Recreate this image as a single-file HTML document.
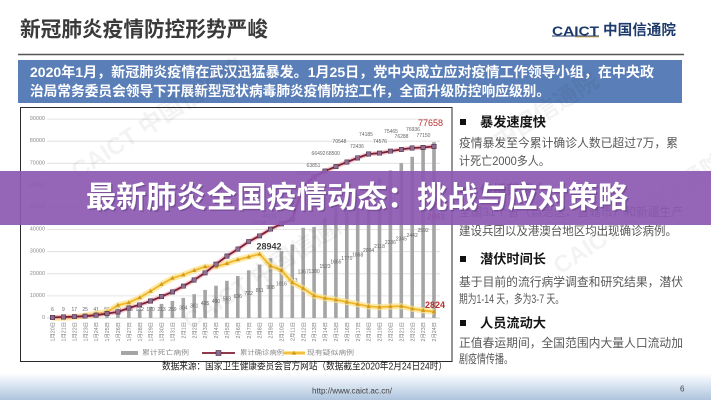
<!DOCTYPE html>
<html><head><meta charset="utf-8">
<style>
html,body{margin:0;padding:0;background:#fff;width:711px;height:400px;overflow:hidden}
svg{display:block}
text{font-family:"Liberation Sans","Noto Sans CJK SC",sans-serif}
</style></head>
<body>
<svg width="711" height="400" viewBox="0 0 711 400" xmlns="http://www.w3.org/2000/svg">
<defs>
<linearGradient id="foot" x1="0" y1="0" x2="0" y2="1">
<stop offset="0" stop-color="#ffffff"/>
<stop offset="0.3" stop-color="#e6eef7"/>
<stop offset="1" stop-color="#aec3dd"/>
</linearGradient>
<marker id="sq" viewBox="0 0 5 5" refX="2.5" refY="2.5" markerWidth="5" markerHeight="5" markerUnits="userSpaceOnUse">
<rect x="0.3" y="0.3" width="4.4" height="4.4" fill="#8d6e90" stroke="#4b2840" stroke-width="0.6"/>
</marker>
<marker id="tri" viewBox="0 0 5 5" refX="2.5" refY="2.8" markerWidth="5" markerHeight="5" markerUnits="userSpaceOnUse">
<path d="M2.5,0.4 L4.7,4.4 L0.3,4.4Z" fill="#d39a18"/>
</marker>
</defs>

<rect width="711" height="400" fill="#fff"/>

<!-- Title -->
<text x="20" y="30" font-size="21" font-weight="bold" fill="#3a3a3a" dominant-baseline="central" textLength="248" lengthAdjust="spacingAndGlyphs">新冠肺炎疫情防控形势严峻</text>
<!-- logo -->
<text x="552" y="31" font-size="13" font-weight="bold" fill="#1d3a6c" dominant-baseline="central" textLength="47" lengthAdjust="spacingAndGlyphs">CAICT</text>
<line x1="552" y1="36" x2="599" y2="36" stroke="#1d3a6c" stroke-width="1"/>
<line x1="575" y1="37" x2="599" y2="37" stroke="#e0a830" stroke-width="0.8"/>
<text x="603" y="31" font-size="14.5" font-weight="bold" fill="#1d3a6c" dominant-baseline="central" textLength="73" lengthAdjust="spacingAndGlyphs">中国信通院</text>

<line x1="18" y1="54.5" x2="684" y2="54.5" stroke="#555" stroke-width="1.5"/>

<!-- blue box -->
<rect x="18" y="60" width="664" height="43" fill="#5a7eb7"/>
<text x="30" y="72" font-size="14" font-weight="bold" fill="#fff" dominant-baseline="central" textLength="624" lengthAdjust="spacingAndGlyphs">2020年1月，新冠肺炎疫情在武汉迅猛暴发。1月25日，党中央成立应对疫情工作领导小组，在中央政</text>
<text x="30" y="91" font-size="14" font-weight="bold" fill="#fff" dominant-baseline="central" textLength="520" lengthAdjust="spacingAndGlyphs">治局常务委员会领导下开展新型冠状病毒肺炎疫情防控工作，全面升级防控响应级别。</text>

<!-- chart frame -->
<rect x="20.5" y="107.5" width="431.5" height="254" fill="#fff" stroke="#2a2a2a" stroke-width="1"/>

<!-- gridlines -->
<g stroke="#dcdcdc" stroke-width="0.8">
<line x1="47" y1="119.1" x2="440" y2="119.1"/>
<line x1="47" y1="141.2" x2="440" y2="141.2"/>
<line x1="47" y1="163.3" x2="440" y2="163.3"/>
<line x1="47" y1="185.4" x2="440" y2="185.4"/>
<line x1="47" y1="207.5" x2="440" y2="207.5"/>
<line x1="47" y1="229.6" x2="440" y2="229.6"/>
<line x1="47" y1="251.7" x2="440" y2="251.7"/>
<line x1="47" y1="273.8" x2="440" y2="273.8"/>
<line x1="47" y1="295.9" x2="440" y2="295.9"/>
</g>
<line x1="47" y1="318" x2="440" y2="318" stroke="#c8c8c8" stroke-width="0.8"/>

<!-- y labels -->
<g font-size="5.5" fill="#8a8a8a" text-anchor="end" dominant-baseline="central">
<text x="45" y="119.1">90000</text>
<text x="45" y="141.2">80000</text>
<text x="45" y="163.3">70000</text>
<text x="45" y="185.4">60000</text>
<text x="45" y="207.5">50000</text>
<text x="45" y="229.6">40000</text>
<text x="45" y="251.7">30000</text>
<text x="45" y="273.8">20000</text>
<text x="45" y="295.9">10000</text>
<text x="45" y="318">0</text>
</g>

<!-- bars (cumulative deaths) -->
<g fill="#a5a5a5">
<rect x="50.7" y="317.6" width="3.6" height="0.4"/>
<rect x="61.6" y="317.4" width="3.6" height="0.6"/>
<rect x="72.5" y="316.9" width="3.6" height="1.1"/>
<rect x="83.4" y="316.35" width="3.6" height="1.65"/>
<rect x="94.3" y="315.3" width="3.6" height="2.7"/>
<rect x="105.2" y="314.3" width="3.6" height="3.7"/>
<rect x="116.1" y="312.7" width="3.6" height="5.3"/>
<rect x="127.0" y="311.0" width="3.6" height="7.0"/>
<rect x="137.9" y="309.3" width="3.6" height="8.7"/>
<rect x="148.8" y="306.8" width="3.6" height="11.2"/>
<rect x="159.7" y="303.9" width="3.6" height="14.1"/>
<rect x="170.6" y="300.9" width="3.6" height="17.1"/>
<rect x="181.5" y="297.9" width="3.6" height="20.1"/>
<rect x="192.4" y="294.2" width="3.6" height="23.8"/>
<rect x="203.3" y="289.9" width="3.6" height="28.1"/>
<rect x="214.2" y="285.7" width="3.6" height="32.3"/>
<rect x="225.1" y="280.8" width="3.6" height="37.2"/>
<rect x="236.0" y="276.0" width="3.6" height="42.0"/>
<rect x="246.9" y="270.3" width="3.6" height="47.7"/>
<rect x="257.8" y="264.5" width="3.6" height="53.5"/>
<rect x="268.7" y="258.1" width="3.6" height="59.9"/>
<rect x="279.6" y="250.9" width="3.6" height="67.1"/>
<rect x="290.5" y="244.5" width="3.6" height="73.5"/>
<rect x="301.4" y="227.8" width="3.6" height="90.2"/>
<rect x="312.3" y="226.9" width="3.6" height="91.1"/>
<rect x="323.2" y="217.5" width="3.6" height="100.5"/>
<rect x="334.1" y="208.1" width="3.6" height="109.9"/>
<rect x="345.0" y="201.2" width="3.6" height="116.8"/>
<rect x="355.9" y="194.7" width="3.6" height="123.3"/>
<rect x="366.8" y="185.7" width="3.6" height="132.3"/>
<rect x="377.7" y="178.2" width="3.6" height="139.8"/>
<rect x="388.6" y="170.4" width="3.6" height="147.6"/>
<rect x="399.5" y="163.2" width="3.6" height="154.8"/>
<rect x="410.4" y="156.8" width="3.6" height="161.2"/>
<rect x="421.3" y="146.9" width="3.6" height="171.1"/>
<rect x="432.2" y="142.2" width="3.6" height="175.8"/>
</g>

<!-- death labels -->
<g font-size="5" fill="#666" text-anchor="middle" dominant-baseline="central">
<text x="52.5" y="310">6</text><text x="63.4" y="310">9</text><text x="74.3" y="310">17</text>
<text x="85.2" y="310">25</text><text x="96.1" y="310">41</text><text x="107" y="310">56</text>
<text x="117.9" y="310">80</text><text x="128.8" y="310">106</text><text x="139.7" y="310">132</text>
<text x="150.6" y="310">170</text><text x="161.5" y="310">213</text><text x="172.4" y="309.8">259</text>
<text x="183.3" y="308.3">304</text><text x="194.2" y="306.3">361</text><text x="205.1" y="304.2">425</text>
<text x="216" y="302">490</text><text x="226.9" y="299.5">563</text><text x="237.8" y="297.1">636</text>
<text x="248.7" y="294.2">722</text><text x="259.6" y="291.2">811</text><text x="270.5" y="287.9">908</text>
<text x="281.4" y="284.3">1016</text><text x="292.3" y="281">1113</text><text x="303.2" y="272.4">1367</text>
<text x="314.1" y="272">1380</text><text x="325" y="267.2">1523</text><text x="335.9" y="262.4">1665</text>
<text x="346.8" y="258.9">1770</text><text x="357.7" y="255.5">1868</text><text x="368.6" y="251">2004</text>
<text x="379.5" y="247.1">2118</text><text x="390.4" y="243.1">2236</text><text x="401.3" y="239.5">2345</text>
<text x="412.2" y="236.2">2442</text><text x="423.1" y="231.2">2592</text>
</g>
<text x="436" y="217" font-size="8" font-weight="bold" fill="#b8312f" text-anchor="middle" dominant-baseline="central">2663</text>

<!-- suspected (yellow) -->
<polyline fill="none" stroke="#fbe38e" stroke-width="6" stroke-linejoin="round" opacity="0.75" points="52.5,317.9 63.4,317.9 74.3,317.1 85.2,315.6 96.1,313.7 107.0,312.1 117.9,305.2 128.8,302.6 139.7,297.6 150.6,291.1 161.5,284.3 172.4,278.2 183.3,274.8 194.2,270.4 205.1,266.7 216.0,266.6 226.9,263.4 237.8,259.7 248.7,256.9 259.6,254.0 270.5,265.9 281.4,270.1 292.3,282.5 303.2,288.3 314.1,295.7 325.0,298.2 335.9,299.8 346.8,302.0 357.7,304.2 368.6,306.4 379.5,307.1 390.4,306.5 401.3,306.1 412.2,308.8 423.1,310.4 434.0,311.8"/>
<polyline fill="none" stroke="#f0b62a" stroke-width="1.8" stroke-linejoin="round" marker-start="url(#tri)" marker-mid="url(#tri)" marker-end="url(#tri)" points="52.5,317.9 63.4,317.9 74.3,317.1 85.2,315.6 96.1,313.7 107.0,312.1 117.9,305.2 128.8,302.6 139.7,297.6 150.6,291.1 161.5,284.3 172.4,278.2 183.3,274.8 194.2,270.4 205.1,266.7 216.0,266.6 226.9,263.4 237.8,259.7 248.7,256.9 259.6,254.0 270.5,265.9 281.4,270.1 292.3,282.5 303.2,288.3 314.1,295.7 325.0,298.2 335.9,299.8 346.8,302.0 357.7,304.2 368.6,306.4 379.5,307.1 390.4,306.5 401.3,306.1 412.2,308.8 423.1,310.4 434.0,311.8"/>

<!-- confirmed (maroon) -->
<polyline fill="none" stroke="#eaa3ad" stroke-width="4.5" stroke-linejoin="round" opacity="0.6" points="52.5,317.4 63.4,317.0 74.3,316.7 85.2,316.2 96.1,315.2 107.0,313.6 117.9,311.9 128.8,308.0 139.7,304.8 150.6,301.0 161.5,296.6 172.4,291.9 183.3,286.2 194.2,280.0 205.1,272.8 216.0,264.2 226.9,256.1 237.8,249.1 248.7,241.7 259.6,235.8 270.5,229.2 281.4,223.8 292.3,219.3 303.2,185.8 314.1,176.9 325.0,171.1 335.9,166.6 346.8,162.1 357.7,157.9 368.6,154.0 379.5,153.2 390.4,151.2 401.3,149.4 412.2,148.0 423.1,147.5 434.0,146.4"/>
<polyline fill="none" stroke="#7e1d33" stroke-width="1.8" stroke-linejoin="round" marker-start="url(#sq)" marker-mid="url(#sq)" marker-end="url(#sq)" points="52.5,317.4 63.4,317.0 74.3,316.7 85.2,316.2 96.1,315.2 107.0,313.6 117.9,311.9 128.8,308.0 139.7,304.8 150.6,301.0 161.5,296.6 172.4,291.9 183.3,286.2 194.2,280.0 205.1,272.8 216.0,264.2 226.9,256.1 237.8,249.1 248.7,241.7 259.6,235.8 270.5,229.2 281.4,223.8 292.3,219.3 303.2,185.8 314.1,176.9 325.0,171.1 335.9,166.6 346.8,162.1 357.7,157.9 368.6,154.0 379.5,153.2 390.4,151.2 401.3,149.4 412.2,148.0 423.1,147.5 434.0,146.4"/>

<!-- confirmed labels -->
<g font-size="5" fill="#666" text-anchor="middle" dominant-baseline="central">
<text x="259.5" y="224">37198</text><text x="269.5" y="217">40171</text>
<text x="303.5" y="174">59804</text><text x="313.5" y="166">63851</text>
<text x="318.5" y="154">66492</text><text x="333" y="154">68500</text>
<text x="339.5" y="142">70548</text><text x="357" y="147">72436</text>
<text x="366" y="135">74185</text><text x="380" y="142">74576</text>
<text x="391" y="132">75465</text><text x="401.5" y="137">76288</text>
<text x="413" y="130">76936</text><text x="423.5" y="136">77150</text>
</g>
<text x="430.5" y="123" font-size="9" fill="#b8312f" text-anchor="middle" dominant-baseline="central">77658</text>
<text x="269" y="246.5" font-size="9" font-weight="bold" fill="#404040" text-anchor="middle" dominant-baseline="central">28942</text>
<text x="435" y="305" font-size="9" font-weight="bold" fill="#b8312f" text-anchor="middle" dominant-baseline="central">2824</text>

<!-- x labels -->
<g font-size="5.3" fill="#7a7a7a" text-anchor="end">
<text transform="translate(54.6,322) rotate(-90)">1月20日</text>
<text transform="translate(65.5,322) rotate(-90)">1月21日</text>
<text transform="translate(76.4,322) rotate(-90)">1月22日</text>
<text transform="translate(87.3,322) rotate(-90)">1月23日</text>
<text transform="translate(98.2,322) rotate(-90)">1月24日</text>
<text transform="translate(109.1,322) rotate(-90)">1月25日</text>
<text transform="translate(120.0,322) rotate(-90)">1月26日</text>
<text transform="translate(130.9,322) rotate(-90)">1月27日</text>
<text transform="translate(141.8,322) rotate(-90)">1月28日</text>
<text transform="translate(152.7,322) rotate(-90)">1月29日</text>
<text transform="translate(163.6,322) rotate(-90)">1月30日</text>
<text transform="translate(174.5,322) rotate(-90)">1月31日</text>
<text transform="translate(185.4,322) rotate(-90)">2月1日</text>
<text transform="translate(196.3,322) rotate(-90)">2月2日</text>
<text transform="translate(207.2,322) rotate(-90)">2月3日</text>
<text transform="translate(218.1,322) rotate(-90)">2月4日</text>
<text transform="translate(229.0,322) rotate(-90)">2月5日</text>
<text transform="translate(239.9,322) rotate(-90)">2月6日</text>
<text transform="translate(250.8,322) rotate(-90)">2月7日</text>
<text transform="translate(261.7,322) rotate(-90)">2月8日</text>
<text transform="translate(272.6,322) rotate(-90)">2月9日</text>
<text transform="translate(283.5,322) rotate(-90)">2月10日</text>
<text transform="translate(294.4,322) rotate(-90)">2月11日</text>
<text transform="translate(305.3,322) rotate(-90)">2月12日</text>
<text transform="translate(316.2,322) rotate(-90)">2月13日</text>
<text transform="translate(327.1,322) rotate(-90)">2月14日</text>
<text transform="translate(338.0,322) rotate(-90)">2月15日</text>
<text transform="translate(348.9,322) rotate(-90)">2月16日</text>
<text transform="translate(359.8,322) rotate(-90)">2月17日</text>
<text transform="translate(370.7,322) rotate(-90)">2月18日</text>
<text transform="translate(381.6,322) rotate(-90)">2月19日</text>
<text transform="translate(392.5,322) rotate(-90)">2月20日</text>
<text transform="translate(403.4,322) rotate(-90)">2月21日</text>
<text transform="translate(414.3,322) rotate(-90)">2月22日</text>
<text transform="translate(425.2,322) rotate(-90)">2月23日</text>
<text transform="translate(436.1,322) rotate(-90)">2月24日</text>
</g>

<!-- legend -->
<rect x="121" y="351" width="17" height="4" fill="#a5a5a5"/>
<text x="142" y="353" font-size="6.5" fill="#888" dominant-baseline="central" textLength="47" lengthAdjust="spacingAndGlyphs">累计死亡病例</text>
<line x1="202" y1="353" x2="235" y2="353" stroke="#7e1d33" stroke-width="1.8"/>
<rect x="216" y="350.5" width="5" height="5" fill="#8d6e90" stroke="#4b2840" stroke-width="0.6"/>
<text x="240" y="353" font-size="6.5" fill="#888" dominant-baseline="central" textLength="44" lengthAdjust="spacingAndGlyphs">累计确诊病例</text>
<line x1="283" y1="353" x2="305" y2="353" stroke="#fbe38e" stroke-width="4"/>
<line x1="283" y1="353" x2="305" y2="353" stroke="#f0b62a" stroke-width="1.6"/>
<path d="M294,350.6 L296.3,354.6 L291.7,354.6Z" fill="#d39a18"/>
<text x="307" y="353" font-size="6.5" fill="#888" dominant-baseline="central" textLength="47" lengthAdjust="spacingAndGlyphs">现有疑似病例</text>

<!-- source -->
<text x="162" y="367" font-size="10" fill="#222" dominant-baseline="central" textLength="285" lengthAdjust="spacingAndGlyphs">数据来源：国家卫生健康委员会官方网站（数据截至2020年2月24日24时）</text>

<!-- right column -->
<g fill="#111">
<rect x="460" y="119" width="6" height="6"/>
<rect x="460" y="187" width="6" height="6"/>
<rect x="460" y="256" width="6" height="6"/>
<rect x="460" y="320" width="6" height="6"/>
</g>
<g font-size="13" font-weight="bold" fill="#151515" dominant-baseline="central">
<text x="480" y="122" textLength="66" lengthAdjust="spacingAndGlyphs">暴发速度快</text>
<text x="480" y="190" textLength="66" lengthAdjust="spacingAndGlyphs">传播范围广</text>
<text x="480" y="259" textLength="66" lengthAdjust="spacingAndGlyphs">潜伏时间长</text>
<text x="480" y="323" textLength="66" lengthAdjust="spacingAndGlyphs">人员流动大</text>
</g>
<g font-size="12" fill="#585858" dominant-baseline="central">
<text x="459" y="143" textLength="219" lengthAdjust="spacingAndGlyphs">疫情暴发至今累计确诊人数已超过7万，累</text>
<text x="459" y="161" textLength="91" lengthAdjust="spacingAndGlyphs">计死亡2000多人。</text>
<text x="459" y="212" textLength="224" lengthAdjust="spacingAndGlyphs">全国31个省（自治区、直辖市）和新疆生产</text>
<text x="459" y="231" textLength="218" lengthAdjust="spacingAndGlyphs">建设兵团以及港澳台地区均出现确诊病例。</text>
<text x="459" y="282" textLength="224" lengthAdjust="spacingAndGlyphs">基于目前的流行病学调查和研究结果，潜伏</text>
<text x="459" y="299" textLength="105" lengthAdjust="spacingAndGlyphs">期为1-14 天，多为3-7 天。</text>
<text x="459" y="343" textLength="224" lengthAdjust="spacingAndGlyphs">正值春运期间，全国范围内大量人口流动加</text>
<text x="459" y="359" textLength="54" lengthAdjust="spacingAndGlyphs">剧疫情传播。</text>
</g>

<!-- watermarks -->
<g font-size="24" font-weight="bold" fill="#000" opacity="0.05">
<text transform="translate(78,180) rotate(-33)">CAICT 中国信通院</text>
<text transform="translate(190,330) rotate(-33)">CAICT 中国信通院</text>
<text transform="translate(560,275) rotate(-33)">CAICT 中国信通院</text>
<text transform="translate(500,150) rotate(-33)">中国信通院</text>
</g>

<!-- footer -->
<rect x="0" y="373" width="711" height="27" fill="url(#foot)"/>
<text x="312" y="391" font-size="8" fill="#444" dominant-baseline="central" textLength="80" lengthAdjust="spacingAndGlyphs">http://www.caict.ac.cn/</text>
<text x="680" y="389" font-size="8" fill="#444" dominant-baseline="central">6</text>

<!-- banner -->
<rect x="0" y="171" width="711" height="54" fill="rgb(140,89,178)" opacity="0.92"/>
<text x="87.5" y="199.5" font-size="30" font-weight="bold" fill="#4a2a60" opacity="0.35" dominant-baseline="central" textLength="542" lengthAdjust="spacingAndGlyphs">最新肺炎全国疫情动态：挑战与应对策略</text>
<text x="86" y="198" font-size="30" font-weight="bold" fill="#fff" dominant-baseline="central" textLength="542" lengthAdjust="spacingAndGlyphs">最新肺炎全国疫情动态：挑战与应对策略</text>
</svg>
</body></html>
